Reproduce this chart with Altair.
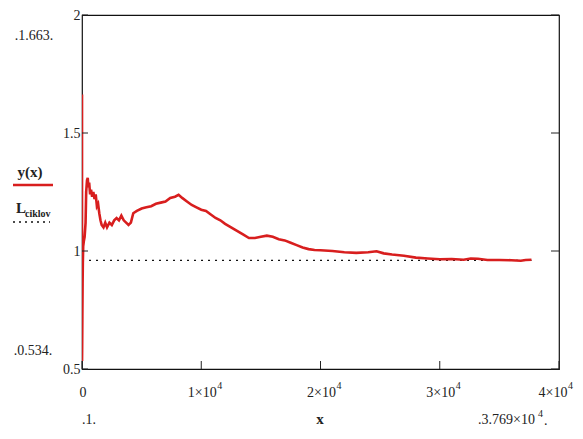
import altair as alt
import pandas as pd

# ---- data ----
x_vals = [1, 3, 15, 30, 50, 70, 100, 150, 220, 300, 350, 420, 480, 540, 600, 680, 760, 850, 950,
          1050, 1150, 1250, 1350, 1450, 1550, 1650, 1800, 1950, 2100, 2300, 2500, 2700, 2900, 3100,
          3300, 3500, 3700, 3900, 4100, 4300, 4600, 5000, 5400, 5800, 6200, 6600, 7000, 7400, 7800,
          8100, 8400, 8800, 9200, 9600, 10000, 10400, 10800, 11200, 11600, 12000, 12500, 13000,
          13500, 14000, 14500, 15000, 15500, 16000, 16500, 17000, 17500, 18000, 18500, 19000,
          19500, 20000, 21000, 22000, 23000, 24000, 24700, 25300, 26000, 27000, 28000, 29000,
          30000, 31000, 32000, 32600, 33200, 34000, 35000, 36000, 36800, 37200, 37690]
y_vals = [1.663, 0.534, 0.60, 0.72, 0.86, 0.95, 1.02, 1.04, 1.06, 1.12, 1.25, 1.30, 1.31, 1.27,
          1.29, 1.24, 1.26, 1.23, 1.25, 1.22, 1.24, 1.19, 1.20, 1.16, 1.13, 1.11, 1.10, 1.12, 1.10,
          1.12, 1.11, 1.13, 1.14, 1.13, 1.15, 1.13, 1.12, 1.11, 1.12, 1.16, 1.17, 1.18, 1.185, 1.19,
          1.20, 1.205, 1.21, 1.225, 1.23, 1.238, 1.225, 1.21, 1.195, 1.185, 1.175, 1.17, 1.155,
          1.14, 1.13, 1.115, 1.10, 1.085, 1.07, 1.055, 1.055, 1.06, 1.065, 1.06, 1.05, 1.045,
          1.035, 1.025, 1.015, 1.008, 1.004, 1.003, 1.0, 0.995, 0.992, 0.995, 0.999, 0.99, 0.985,
          0.98, 0.972, 0.968, 0.965, 0.966, 0.963, 0.968, 0.967, 0.962, 0.962, 0.961, 0.959,
          0.962, 0.963]
L_ciklov = 0.96
x_start, x_end = 1, 37690
x_ticks = [0, 10000, 20000, 30000, 40000]
x_tick_main = ["0", "1×10", "2×10", "3×10", "4×10"]
x_tick_sup = [" ", "4", "4", "4", "4"]
y_ticks = [0.5, 1.0, 1.5, 2.0]

W, H = 477, 354
FONT = "Liberation Serif"
RED = "#d81e1e"
AX = "#222222"
FS = 14

xs = alt.Scale(domain=[0, 40000], nice=False, zero=False)
ys = alt.Scale(domain=[0.5, 2.0], nice=False, zero=False)
yaxis = alt.Axis(
    values=y_ticks, tickSize=0, domain=False, grid=False, title=None,
    labelFont=FONT, labelFontSize=FS, labelColor=AX, labelPadding=2,
    labelExpr="datum.value == 2 ? '2' : datum.value == 1 ? '1' : format(datum.value, '.1f')")

df = pd.DataFrame({"x": x_vals, "y": y_vals})

line = alt.Chart(df).mark_line(color=RED, strokeWidth=2.6, clip=True).encode(
    x=alt.X("x:Q", scale=xs, axis=None),
    y=alt.Y("y:Q", scale=ys, axis=yaxis),
    order="x:Q",
)

ldf = pd.DataFrame({"x0": [x_start], "x1": [x_end], "L": [L_ciklov]})
dotted = alt.Chart(ldf).mark_rule(color="#111111", strokeWidth=1.3, strokeDash=[2, 5]).encode(
    x=alt.X("x0:Q", scale=xs, axis=None), x2="x1:Q", y=alt.Y("L:Q", scale=ys, axis=yaxis))

ytd = pd.DataFrame({"v": y_ticks})
xtd = pd.DataFrame({"v": x_ticks, "m": x_tick_main, "s": x_tick_sup})
yt_left = alt.Chart(ytd).mark_rule(color=AX, strokeWidth=1).encode(
    y=alt.Y("v:Q", scale=ys, axis=yaxis), x=alt.value(0), x2=alt.value(6))
yt_right = alt.Chart(ytd).mark_rule(color=AX, strokeWidth=1).encode(
    y=alt.Y("v:Q", scale=ys, axis=yaxis), x=alt.value(W - 8), x2=alt.value(W))
xt_bot = alt.Chart(xtd).mark_rule(color=AX, strokeWidth=1).encode(
    x=alt.X("v:Q", scale=xs, axis=None), y=alt.value(H - 8), y2=alt.value(H))


def xlabels(cond, shift):
    base = alt.Chart(xtd).transform_filter(cond)
    main = base.mark_text(font=FONT, fontSize=FS, color=AX, baseline="middle", dx=shift).encode(
        x=alt.X("v:Q", scale=xs, axis=None), y=alt.value(H + 24), text="m:N")
    sup = base.mark_text(font=FONT, fontSize=10, color=AX, baseline="middle",
                         align="left", dx=15 + shift).encode(
        x=alt.X("v:Q", scale=xs, axis=None), y=alt.value(H + 17), text="s:N")
    return [main, sup]


xt_labels = xlabels(alt.datum.v < 40000, 1) + xlabels(alt.datum.v >= 40000, -6)


def txt(s, x, y, size=FS, weight="normal", align="center"):
    return alt.Chart(pd.DataFrame({"t": [s]})).mark_text(
        font=FONT, fontSize=size, fontWeight=weight, color=AX, align=align, baseline="middle"
    ).encode(text="t:N", x=alt.value(x), y=alt.value(y))


def seg(x1, x2, y, color, width, dash=None):
    kw = dict(color=color, strokeWidth=width)
    if dash:
        kw["strokeDash"] = dash
    return alt.Chart(pd.DataFrame({"a": [0]})).mark_rule(**kw).encode(
        x=alt.value(x1), x2=alt.value(x2), y=alt.value(y))


annots = [
    txt("y(x)", -52, 157, 15, "bold"),
    seg(-69, -29, 170, RED, 2.5),
    txt("L", -66, 193, 15, "bold", "left"),
    txt("ciklov", -57, 199, 10, "bold", "left"),
    seg(-69, -32, 207, "#111111", 1.3, [2, 4]),
    txt(".1.663.", -48, 21),
    txt(".0.534.", -49, 336),
    txt(".1.", 7, 405),
    txt(".3.769×10", 396, 405, FS, "normal", "left"),
    txt("4", 456, 399, 10, "normal", "left"),
    txt(".", 462, 406, FS, "normal", "left"),
    txt("x", 238, 404, 15, "bold"),
]

chart = alt.layer(dotted, line, yt_left, yt_right, xt_bot, *xt_labels, *annots).properties(
    width=W, height=H,
    autosize=alt.AutoSizeParams(type="none"),
    padding={"left": 74, "top": 7, "right": 16, "bottom": 60},
).configure_view(stroke="#111111", strokeWidth=1.2)

chart.save("out.html", embed_options={"renderer": "svg", "actions": False})
